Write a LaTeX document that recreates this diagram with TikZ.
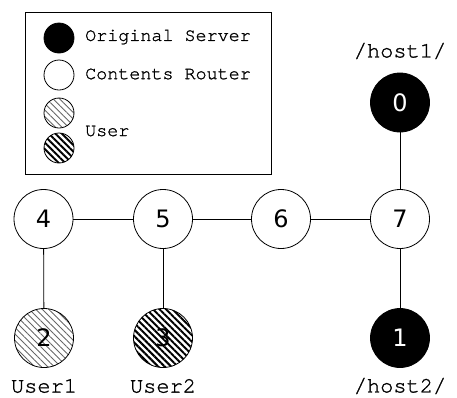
\documentclass[tikz,border=0pt]{standalone}
\usepackage{fontspec}
\usetikzlibrary{patterns.meta}
\newfontfamily\monofont[RawFeature={embolden=1.2}]{TeX Gyre Cursor}
\newfontfamily\numfont{DejaVu Sans}

\tikzset{
  nd/.style={circle, draw, line width=0.8pt, minimum size=59pt, inner sep=0pt,
             font=\numfont\fontsize{24}{26}\selectfont},
  srv/.style={nd, fill=black, text=white},
  rtr/.style={nd, fill=white},
  usrA/.style={nd, pattern={Lines[angle=-45,distance=4.6pt,line width=0.9pt]}, pattern color=black!60},
  usrB/.style={nd, pattern={Lines[angle=-45,distance=4.6pt,line width=2pt]}, pattern color=black},
  link/.style={line width=0.8pt},
  lbl/.style={font=\monofont\fontsize{22}{24}\selectfont},
  legtxt/.style={font=\monofont\fontsize{18.4}{20}\selectfont, anchor=west, inner sep=0pt},
  legdot/.style={circle, draw, line width=0.8pt, minimum size=30pt, inner sep=0pt},
  legbox/.style={draw, line width=0.8pt, minimum width=246pt, minimum height=162pt, inner sep=0pt}
}

\begin{document}
\begin{tikzpicture}[x=1pt, y=-1pt]
  \useasboundingbox (0,0) rectangle (457,397);

  % legend
  \node[legbox] (legend) at (148,93) {};
  \node[legdot, fill=black] (lsrv) at (59,38) {};
  \node[legdot, fill=white] (lrtr) at (59,75) {};
  \node[legdot, pattern={Lines[angle=-45,distance=4.6pt,line width=0.9pt]}, pattern color=black!60] (lusrA) at (59,113) {};
  \node[legdot, pattern={Lines[angle=-45,distance=4.6pt,line width=2pt]}, pattern color=black] (lusrB) at (59,148) {};
  \node[legtxt] (tsrv) at (85,37) {Original Server};
  \node[legtxt] (trtr) at (85,74) {Contents Router};
  \node[legtxt] (tusr) at (85,131) {User};

  % network nodes
  \node[rtr] (n4) at (43.5,219) {4};
  \node[rtr] (n5) at (163,219) {5};
  \node[rtr] (n6) at (281,219) {6};
  \node[rtr] (n7) at (400,219) {7};
  \node[srv] (n0) at (400,102.5) {0};
  \node[srv] (n1) at (400,338) {1};
  \node[usrA] (n2) at (44,338) {2};
  \node[usrB] (n3) at (163,338) {3};

  % links
  \draw[link] (n4) -- (n5);
  \draw[link] (n5) -- (n6);
  \draw[link] (n6) -- (n7);
  \draw[link] (n7) -- (n0);
  \draw[link] (n7) -- (n1);
  \draw[link] (n4) -- (n2);
  \draw[link] (n5) -- (n3);

  % labels
  \node[lbl] (h1) at (400,51) {/host1/};
  \node[lbl] (h2) at (400,386) {/host2/};
  \node[lbl] (u1) at (44,386) {User1};
  \node[lbl] (u2) at (163,386) {User2};
\end{tikzpicture}
\end{document}
